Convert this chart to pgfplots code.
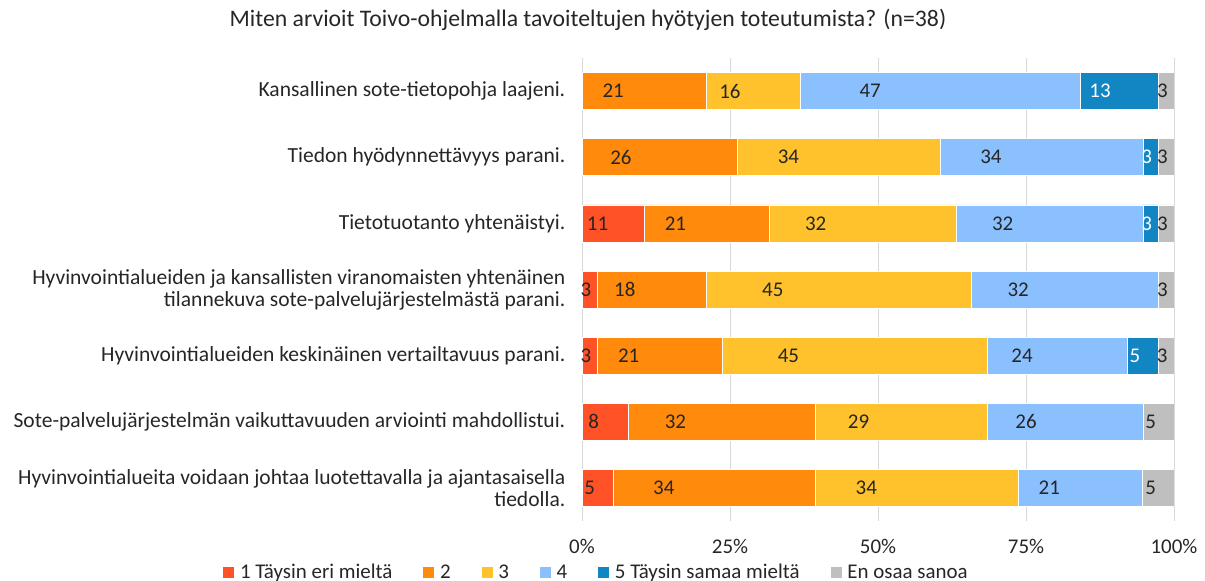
\documentclass[border=0pt]{standalone}
\usepackage{pgfplots}
\pgfplotsset{compat=1.18}
\usepackage{pgfplotstable}
\usepackage{fontspec}
\setmainfont{Carlito}
\definecolor{c1}{HTML}{FF5226}
\definecolor{c2}{HTML}{FF8A0C}
\definecolor{c3}{HTML}{FFC12C}
\definecolor{c4}{HTML}{8BC0FF}
\definecolor{c5}{HTML}{1286C3}
\definecolor{c6}{HTML}{BFBFBF}
\definecolor{txt}{HTML}{262626}
\definecolor{gridc}{HTML}{D9D9D9}

\pgfplotstableread{
y v lab
1 0 {}
2 0 {}
3 10.53 11
4 2.63 3
5 2.63 3
6 7.89 8
7 5.26 5
}\tA
\pgfplotstableread{
y v lab
1 21.05 21
2 26.32 26
3 21.05 21
4 18.42 18
5 21.05 21
6 31.58 32
7 34.21 34
}\tB
\pgfplotstableread{
y v lab
1 15.79 16
2 34.21 34
3 31.58 32
4 44.74 45
5 44.74 45
6 28.95 29
7 34.21 34
}\tC
\pgfplotstableread{
y v lab
1 47.37 47
2 34.21 34
3 31.58 32
4 31.58 32
5 23.68 24
6 26.32 26
7 21.05 21
}\tD
\pgfplotstableread{
y v lab
1 13.16 13
2 2.63 3
3 2.63 3
4 0 {}
5 5.26 5
6 0 {}
7 0 {}
}\tE
\pgfplotstableread{
y v lab
1 2.63 3
2 2.63 3
3 2.63 3
4 2.63 3
5 2.63 3
6 5.26 5
7 5.26 5
}\tF

\newcommand{\lblfont}{\fontsize{16.15}{16.6}\selectfont}
\newcommand{\smfont}{\fontsize{15.7}{17}\selectfont}
\begin{document}
\begin{tikzpicture}[x=1pt,y=1pt]
\path[use as bounding box] (0,0) rectangle (903.75,435.75);
\node[font=\fontsize{17.8}{20}\selectfont, text=txt] at (441,420.75) {Miten arvioit Toivo-ohjelmalla tavoiteltujen hyötyjen toteutumista? (n=38)};
\begin{axis}[
  at={(436.5pt,45pt)}, anchor=south west,
  width=444pt, height=347.25pt, scale only axis,
  xbar stacked, bar width=27.75pt,
  xmin=0, xmax=100, ymin=0.5, ymax=7.5, y dir=reverse,
  axis line style={draw=none},
  major tick length=0pt,
  xmajorgrids, grid style={gridc, line width=0.75pt},
  xtick={0,25,50,75,100},
  xticklabels={0\%,25\%,50\%,75\%,100\%},
  xticklabel style={font=\smfont, text=txt, anchor=base, yshift=-24pt},
  ytick={1,2,3,4,5,6,7},
  yticklabels={
    {Kansallinen sote-tietopohja laajeni.},
    {Tiedon hyödynnettävyys parani.},
    {Tietotuotanto yhtenäistyi.},
    {Hyvinvointialueiden ja kansallisten viranomaisten yhtenäinen\\tilannekuva sote-palvelujärjestelmästä parani.},
    {Hyvinvointialueiden keskinäinen vertailtavuus parani.},
    {Sote-palvelujärjestelmän vaikuttavuuden arviointi mahdollistui.},
    {Hyvinvointialueita voidaan johtaa luotettavalla ja ajantasaisella\\tiedolla.}},
  yticklabel style={font=\lblfont, text=txt, align=right, xshift=-9pt},
  point meta=explicit symbolic,
  nodes near coords,
  % the shift is applied twice by pgfplots, so a quarter of the value centres the label
  visualization depends on={0.25*\thisrow{v} \as \q},
  every node near coord/.append style={anchor=center, font=\smfont, text=txt, shift={(axis direction cs:-\q,0)}},
  legend columns=-1,
  legend style={at={(0.022,-0.1112)}, anchor=center, draw=none, fill=none, font=\smfont, text=txt,
    inner xsep=0pt, inner ysep=0pt, nodes={inner sep=0pt},
    /tikz/every odd column/.append style={column sep=3.75pt},
    /tikz/every even column/.append style={column sep=22.5pt}},
  legend image code/.code={\fill[#1] (0pt,-4.5pt) rectangle (9pt,4.5pt);},
]
\addplot[fill=c1, draw=white, line width=0.5pt] table[x=v, y=y, meta=lab] {\tA};
\addplot[fill=c2, draw=white, line width=0.5pt] table[x=v, y=y, meta=lab] {\tB};
\addplot[fill=c3, draw=white, line width=0.5pt] table[x=v, y=y, meta=lab] {\tC};
\addplot[fill=c4, draw=white, line width=0.5pt] table[x=v, y=y, meta=lab] {\tD};
\addplot[fill=c5, draw=white, line width=0.5pt, every node near coord/.append style={text=white}] table[x=v, y=y, meta=lab] {\tE};
\addplot[fill=c6, draw=white, line width=0.5pt] table[x=v, y=y, meta=lab] {\tF};
\legend{1 Täysin eri mieltä, 2, 3, 4, 5 Täysin samaa mieltä, En osaa sanoa}
\end{axis}
\end{tikzpicture}
\end{document}
